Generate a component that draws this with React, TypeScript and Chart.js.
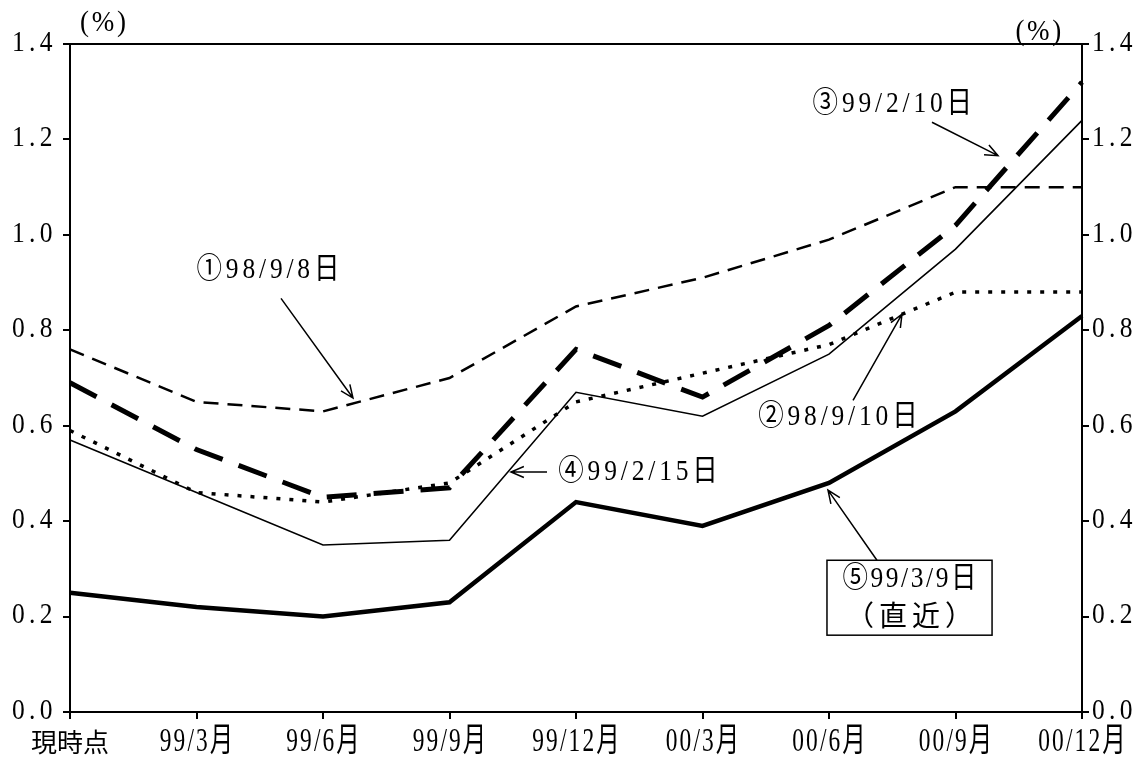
import React, { useEffect, useRef } from 'react';
import { Chart, registerables } from 'chart.js';

Chart.register(...registerables);

// ---- data ----
const categories = ['現時点', '99/3月', '99/6月', '99/9月', '99/12月', '00/3月', '00/6月', '00/9月', '00/12月'];
const series1 = [0.76, 0.65, 0.63, 0.70, 0.85, 0.91, 0.99, 1.10, 1.10]; // ①98/9/8日
const series2 = [0.59, 0.46, 0.44, 0.48, 0.65, 0.71, 0.77, 0.88, 0.88]; // ②98/9/10日
const series3 = [0.69, 0.55, 0.45, 0.47, 0.76, 0.66, 0.81, 1.02, 1.32]; // ③99/2/10日
const series4 = [0.57, 0.46, 0.35, 0.36, 0.67, 0.62, 0.75, 0.97, 1.24]; // ④99/2/15日
const series5 = [0.25, 0.22, 0.20, 0.23, 0.44, 0.39, 0.48, 0.63, 0.83]; // ⑤99/3/9日
const seriesNames = ['①98/9/8日', '②98/9/10日', '③99/2/10日', '④99/2/15日', '⑤99/3/9日'];
const latestNote = '（直近）';
const yTickLabels = ['0.0', '0.2', '0.4', '0.6', '0.8', '1.0', '1.2', '1.4'];
const unitLabel = '(%)';

// annotation anchors in data coordinates: [category index, value]
const labelAnchors = [
  { text: 0, at: [1.0, 0.926], from: [1.668, 0.867], to: [2.237, 0.658] },
  { text: 1, at: [5.44, 0.618], from: [6.19, 0.653], to: [6.577, 0.834] },
  { text: 2, at: [5.87, 1.275], from: [6.814, 1.236], to: [7.336, 1.166] },
  { text: 3, at: [3.86, 0.503], from: [3.771, 0.503], to: [3.486, 0.503] },
];
const boxAnchor = { left: 5.984, right: 7.289, top: 0.318, bottom: 0.161, cx: 6.636, line1: 0.279, line2: 0.203, from: [6.379, 0.318], to: [5.992, 0.465] };

const FONT = '"Liberation Serif", "Noto Sans CJK JP", serif';
const CJK = '"Noto Sans CJK JP", sans-serif';

function drawText(ctx: CanvasRenderingContext2D, text: string, x: number, y: number, size: number, sx: number, align: CanvasTextAlign, spacing: number, family: string = FONT) {
  ctx.save();
  ctx.translate(x, y);
  ctx.scale(sx, 1);
  ctx.font = `${size}px ${family}`;
  (ctx as any).letterSpacing = `${spacing}px`;
  ctx.textAlign = align;
  ctx.textBaseline = 'middle';
  ctx.fillStyle = '#000';
  ctx.fillText(text, align === 'center' ? spacing / 2 : 0, 0);
  ctx.restore();
}

function drawArrow(ctx: CanvasRenderingContext2D, x1: number, y1: number, x2: number, y2: number) {
  const a = Math.atan2(y2 - y1, x2 - x1);
  const L = 14;
  const s = 0.4;
  ctx.save();
  ctx.strokeStyle = '#000';
  ctx.lineWidth = 1.5;
  ctx.beginPath();
  ctx.moveTo(x1, y1);
  ctx.lineTo(x2, y2);
  ctx.moveTo(x2 - L * Math.cos(a - s), y2 - L * Math.sin(a - s));
  ctx.lineTo(x2, y2);
  ctx.lineTo(x2 - L * Math.cos(a + s), y2 - L * Math.sin(a + s));
  ctx.stroke();
  ctx.restore();
}

const decorPlugin = {
  id: 'decor',
  afterDraw(chart: any) {
    const ctx: CanvasRenderingContext2D = chart.ctx;
    const xs = chart.scales.x;
    const ys = chart.scales.y;
    const area = chart.chartArea;
    const px = (i: number) => xs.getPixelForValue(i);
    const py = (v: number) => ys.getPixelForValue(v);

    // top frame line
    ctx.save();
    ctx.strokeStyle = '#000';
    ctx.lineWidth = 2;
    ctx.beginPath();
    ctx.moveTo(area.left, area.top);
    ctx.lineTo(area.right, area.top);
    ctx.stroke();
    ctx.restore();

    // y tick labels (both sides)
    yTickLabels.forEach((t) => {
      const y = py(parseFloat(t)) - 1;
      drawText(ctx, t, 12, y, 30, 0.85, 'left', 5);
      drawText(ctx, t, area.right + 10, y, 30, 0.85, 'left', 5);
    });

    // x tick labels
    categories.forEach((c, i) => {
      const x = px(i);
      if (i === 0) drawText(ctx, c, x, 742, 26, 1, 'center', 0, CJK);
      else drawText(ctx, c, x, 742, 33, 0.71, 'center', 3);
    });

    // unit labels
    drawText(ctx, unitLabel, 80, 23, 30, 0.9, 'left', 3);
    drawText(ctx, unitLabel, area.right - 18, 32, 30, 0.9, 'right', 3);

    // annotations
    labelAnchors.forEach((a) => {
      drawText(ctx, seriesNames[a.text], px(a.at[0]), py(a.at[1]), 30, 0.85, 'left', 4.5);
      drawArrow(ctx, px(a.from[0]), py(a.from[1]), px(a.to[0]), py(a.to[1]));
    });

    // boxed latest label
    const b = boxAnchor;
    ctx.save();
    ctx.strokeStyle = '#000';
    ctx.lineWidth = 1.5;
    ctx.strokeRect(px(b.left), py(b.top), px(b.right) - px(b.left), py(b.bottom) - py(b.top));
    ctx.restore();
    drawText(ctx, seriesNames[4], px(b.cx), py(b.line1), 30, 0.85, 'center', 3);
    drawText(ctx, latestNote, px(b.cx), py(b.line2), 28, 1, 'center', 5, CJK);
    drawArrow(ctx, px(b.from[0]), py(b.from[1]), px(b.to[0]), py(b.to[1]));
  },
};

export default function App() {
  const ref = useRef<HTMLCanvasElement | null>(null);

  useEffect(() => {
    document.body.style.margin = '0';
    const canvas = ref.current;
    if (!canvas) return;
    const axisGrid = { display: true, drawOnChartArea: false, drawTicks: true, tickLength: 7, color: '#000', lineWidth: 2 };
    const axisBorder = { display: true, color: '#000', width: 2 };
    const chart = new Chart(canvas, {
      type: 'line',
      data: {
        labels: categories,
        datasets: [
          { label: seriesNames[0], data: series1, borderColor: '#000', borderWidth: 2.5, borderDash: [15, 9], pointRadius: 0, tension: 0, fill: false },
          { label: seriesNames[1], data: series2, borderColor: '#000', borderWidth: 3.5, borderDash: [4, 9], pointRadius: 0, tension: 0, fill: false },
          { label: seriesNames[2], data: series3, borderColor: '#000', borderWidth: 5, borderDash: [30, 17], pointRadius: 0, tension: 0, fill: false },
          { label: seriesNames[3], data: series4, borderColor: '#000', borderWidth: 1.6, pointRadius: 0, tension: 0, fill: false },
          { label: seriesNames[4], data: series5, borderColor: '#000', borderWidth: 4.5, pointRadius: 0, tension: 0, fill: false },
        ],
      },
      options: {
        responsive: false,
        animation: false,
        layout: { padding: { top: 44, left: 0, right: 0, bottom: 0 } },
        plugins: { legend: { display: false }, tooltip: { enabled: false } },
        scales: {
          x: {
            type: 'category',
            offset: false,
            grid: { ...axisGrid, tickLength: 7 },
            border: axisBorder,
            ticks: { display: false },
            afterFit: (s: any) => { s.height = 48; },
          },
          y: {
            position: 'left',
            min: 0,
            max: 1.4,
            ticks: { display: false, stepSize: 0.2 },
            grid: axisGrid,
            border: axisBorder,
            afterFit: (s: any) => { s.width = 70; },
          },
          y2: {
            position: 'right',
            min: 0,
            max: 1.4,
            ticks: { display: false, stepSize: 0.2 },
            grid: axisGrid,
            border: axisBorder,
            afterFit: (s: any) => { s.width = 61; },
          },
        },
      },
      plugins: [decorPlugin],
    } as any);
    return () => chart.destroy();
  }, []);

  return (
    <div style={{ width: 1143, height: 760 }}>
      <canvas ref={ref} width={1143} height={760} style={{ display: 'block' }} />
    </div>
  );
}
